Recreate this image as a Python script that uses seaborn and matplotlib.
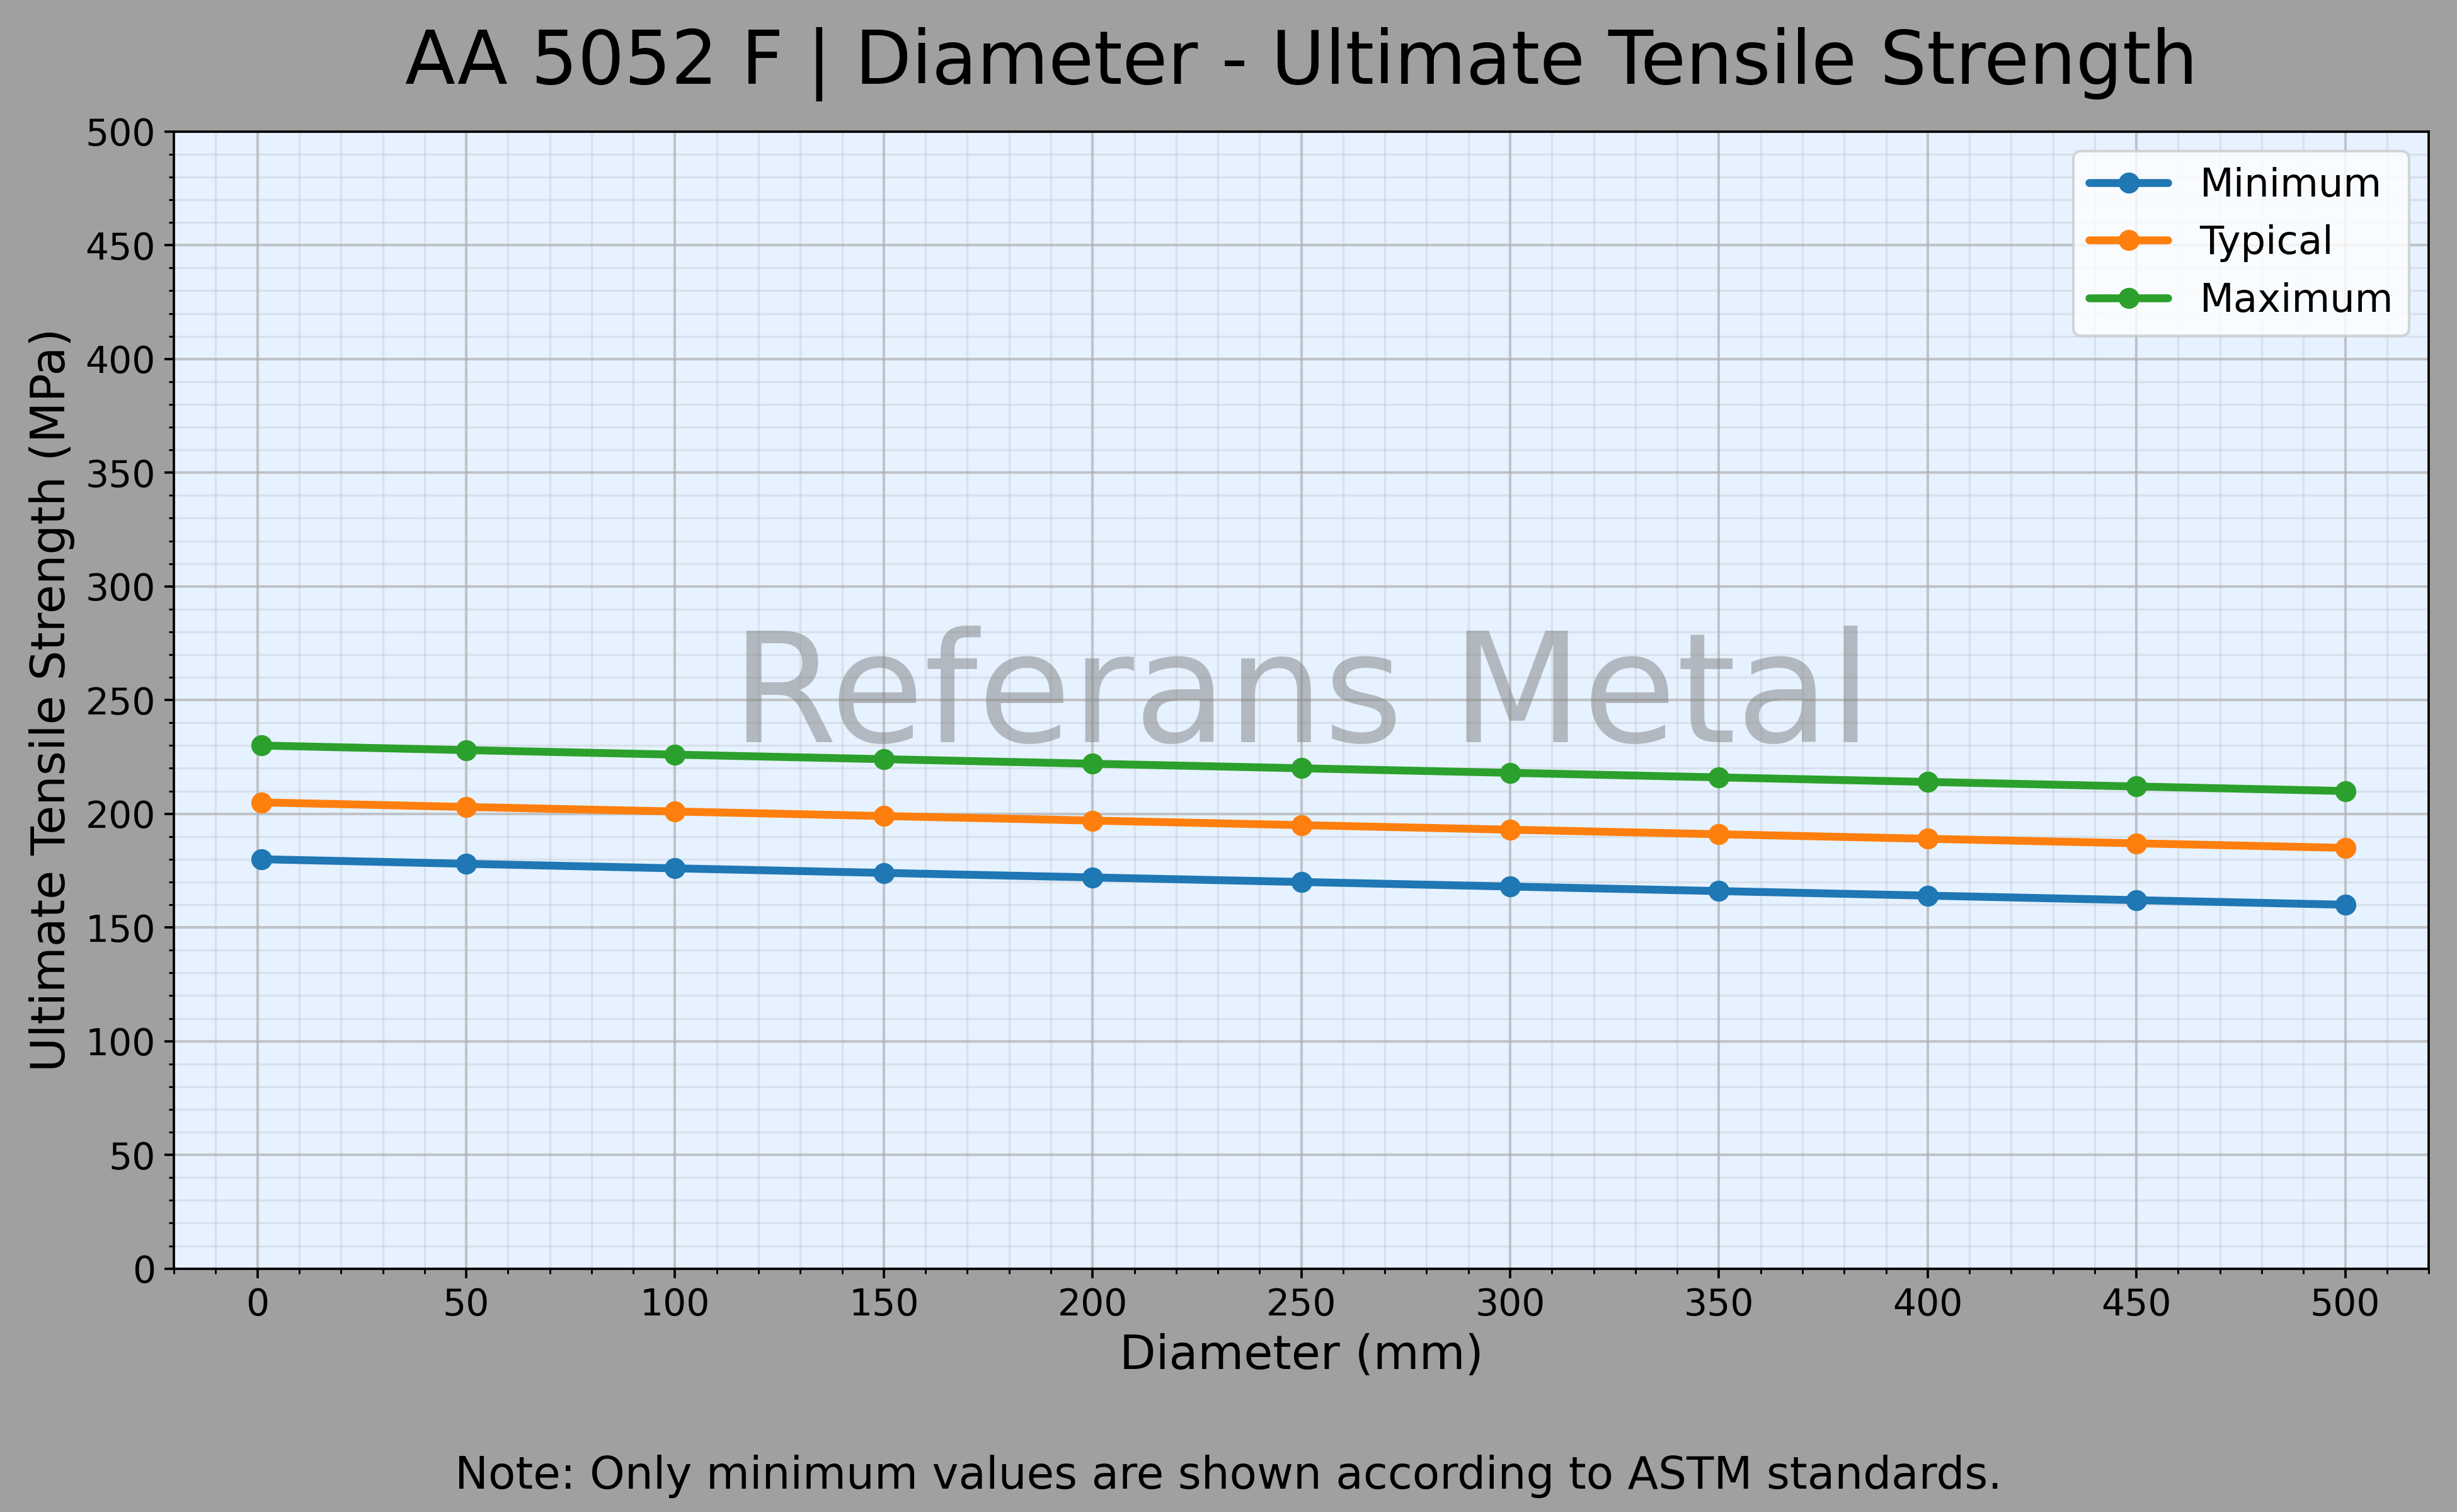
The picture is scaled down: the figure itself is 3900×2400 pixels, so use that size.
import matplotlib
matplotlib.use("Agg")
import matplotlib.pyplot as plt
import seaborn as sns
import pandas as pd
from matplotlib.ticker import MultipleLocator, AutoMinorLocator

# ---- data ----
diameter = [1, 50, 100, 150, 200, 250, 300, 350, 400, 450, 500]
minimum = [180, 178, 176, 174, 172, 170, 168, 166, 164, 162, 160]
typical = [205, 203, 201, 199, 197, 195, 193, 191, 189, 187, 185]
maximum = [230, 228, 226, 224, 222, 220, 218, 216, 214, 212, 210]
series_names = ["Minimum", "Typical", "Maximum"]
colors = ["#1f77b4", "#ff7f0e", "#2ca02c"]

title = "AA 5052 F | Diameter - Ultimate Tensile Strength"
xlabel = "Diameter (mm)"
ylabel = "Ultimate Tensile Strength (MPa)"
note = "Note: Only minimum values are shown according to ASTM standards."
watermark = "Referans Metal"

sns.set_style("ticks")
plt.rcParams["font.family"] = ["DejaVu Sans"]
plt.rcParams["text.color"] = "black"
plt.rcParams["axes.labelcolor"] = "black"
plt.rcParams["xtick.color"] = "black"
plt.rcParams["ytick.color"] = "black"

df = pd.concat([
    pd.DataFrame({"Diameter": diameter, "UTS": vals, "Series": name})
    for name, vals in zip(series_names, [minimum, typical, maximum])
], ignore_index=True)

left, right, bottom, top = 0.0708, 0.9885, 0.161, 0.913
fig = plt.figure(figsize=(13, 8), dpi=300, facecolor="#A0A0A0")
ax = fig.add_axes([left, bottom, right - left, top - bottom])
ax.set_facecolor("#E6F2FF")

for name, c in zip(series_names, colors):
    sub = df[df["Series"] == name]
    sns.lineplot(data=sub, x="Diameter", y="UTS", ax=ax, color=c, linewidth=3,
                 marker="o", markersize=8, markeredgewidth=0, label=name)

ax.set_xlim(-20, 520)
ax.set_ylim(0, 500)
ax.xaxis.set_major_locator(MultipleLocator(50))
ax.yaxis.set_major_locator(MultipleLocator(50))
ax.xaxis.set_minor_locator(AutoMinorLocator(5))
ax.yaxis.set_minor_locator(AutoMinorLocator(5))
ax.grid(which="major", color="#b0b0b0", alpha=0.7, linewidth=1.0)
ax.grid(which="minor", color="#b0b0b0", alpha=0.25, linewidth=0.8)
ax.set_axisbelow(True)

for s in ax.spines.values():
    s.set_visible(True)
    s.set_color("black")
    s.set_linewidth(0.9)

ax.tick_params(axis="both", which="major", labelsize=14, length=3.5, width=0.9, colors="black")
ax.tick_params(axis="both", which="minor", length=2, width=0.7, colors="black")

ax.set_xlabel(xlabel, fontsize=18)
ax.set_ylabel(ylabel, fontsize=18)
fig.text((left + right) / 2, 0.9446, title, fontsize=28, ha="center", va="baseline")

ax.text(0.5, 0.5, watermark, transform=ax.transAxes, fontsize=58, color="gray",
        alpha=0.5, ha="center", va="center", zorder=5)

leg = ax.legend(loc="upper right", fontsize=15)

fig.text(0.5, 0.0154, note, ha="center", va="baseline", fontsize=17)

fig.savefig("out.png", dpi=300, facecolor=fig.get_facecolor())
